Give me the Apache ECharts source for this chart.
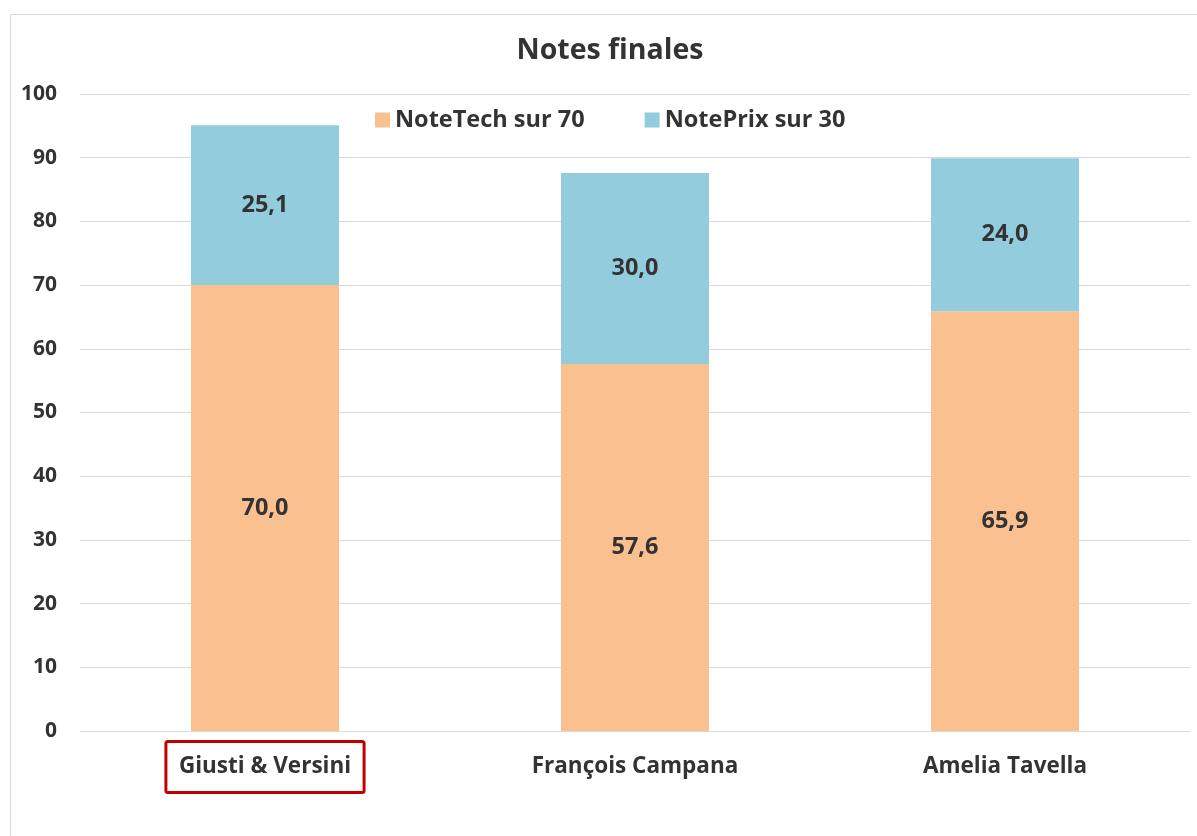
<!DOCTYPE html>
<html>
<head>
<meta charset="utf-8">
<script src="https://cdn.jsdelivr.net/npm/echarts@6/dist/echarts.min.js"></script>
<style>
html,body{margin:0;padding:0;background:#fff;}
#c{width:1197px;height:836px;}
</style>
</head>
<body>
<div id="c"></div>
<script>
const categories = ['Giusti & Versini', 'François Campana', 'Amelia Tavella'];
const noteTech = [70.0, 57.6, 65.9];
const notePrix = [25.1, 30.0, 24.0];
const yTicks = { min: 0, max: 100, interval: 10 };
const seriesNames = ['NoteTech sur 70', 'NotePrix sur 30'];

const FONT = '"Open Sans", "Noto Sans", sans-serif';
const TXT = '#333333';
const chart = echarts.init(document.getElementById('c'));

chart.setOption({
  backgroundColor: '#ffffff',
  animation: false,
  graphic: [{
    type: 'rect',
    shape: { x: 10.5, y: 14.5, width: 1200, height: 840 },
    style: { fill: 'none', stroke: '#d9d9d9', lineWidth: 1 },
    z: -1
  }],
  title: {
    text: 'Notes finales',
    left: 605, top: 31, textAlign: 'center',
    textStyle: { fontFamily: FONT, fontWeight: 'bold', fontSize: 28.5, color: TXT }
  },
  legend: {
    data: seriesNames,
    left: 370, top: 103,
    itemWidth: 15, itemHeight: 15, itemGap: 60,
    icon: 'rect',
    textStyle: { fontFamily: FONT, fontWeight: 'bold', fontSize: 23.5, color: TXT }
  },
  grid: { left: 80, right: 7, top: 94, bottom: 105, containLabel: false },
  xAxis: {
    type: 'category',
    data: categories,
    axisTick: { show: false },
    axisLine: { lineStyle: { color: '#d9d9d9', width: 1 } },
    axisLabel: {
      margin: 22,
      formatter: function (v, i) { return i === 0 ? '{box|' + v + '}' : '{plain|' + v + '}'; },
      rich: {
        box: {
          fontFamily: FONT, fontWeight: 'bold', fontSize: 22.5, color: TXT, lineHeight: 28,
          borderColor: '#C00000', borderWidth: 3, borderRadius: 2,
          padding: [14, 13, 14, 13]
        },
        plain: {
          fontFamily: FONT, fontWeight: 'bold', fontSize: 22.5, color: TXT, lineHeight: 28,
          padding: [14, 13, 14, 13]
        }
      }
    }
  },
  yAxis: {
    type: 'value',
    min: yTicks.min, max: yTicks.max, interval: yTicks.interval,
    axisLine: { show: false },
    axisTick: { show: false },
    splitLine: { lineStyle: { color: '#d9d9d9', width: 1 } },
    axisLabel: { margin: 23, fontFamily: FONT, fontWeight: 'bold', fontSize: 21, color: TXT }
  },
  series: [
    {
      name: seriesNames[0], type: 'bar', stack: 'total', data: noteTech,
      barWidth: '40%',
      itemStyle: { color: '#FAC090' },
      label: {
        show: true, position: 'inside',
        fontFamily: FONT, fontWeight: 'bold', fontSize: 23.5, color: TXT,
        formatter: p => p.value.toFixed(1).replace('.', ',')
      }
    },
    {
      name: seriesNames[1], type: 'bar', stack: 'total', data: notePrix,
      barWidth: '40%',
      itemStyle: { color: '#93CDDD' },
      label: {
        show: true, position: 'inside',
        fontFamily: FONT, fontWeight: 'bold', fontSize: 23.5, color: TXT,
        formatter: p => p.value.toFixed(1).replace('.', ',')
      }
    }
  ]
});
</script>
</body>
</html>
